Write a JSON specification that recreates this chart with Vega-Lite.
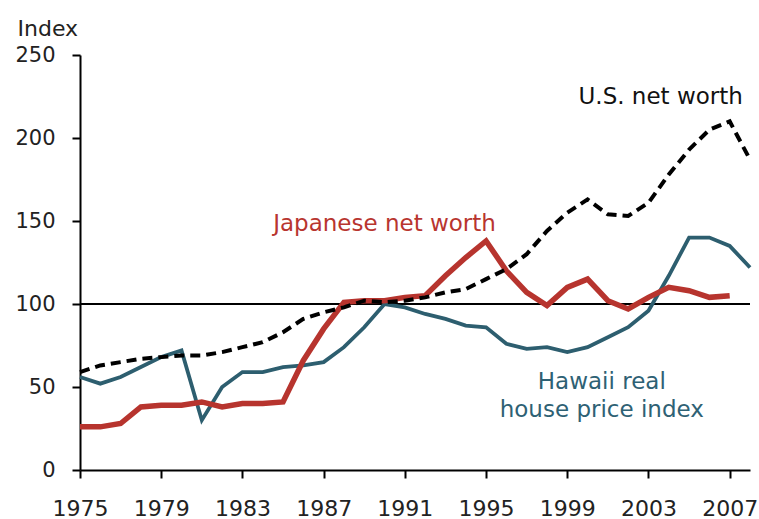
{
  "$schema": "https://vega.github.io/schema/vega-lite/v6.json",
  "width": 670,
  "height": 415,
  "autosize": "none",
  "padding": {"left": 80, "top": 55, "right": 9, "bottom": 49},
  "background": "white",
  "config": {
    "view": {"stroke": null},
    "axis": {"labelFont": "DejaVu Sans", "labelFontSize": 21, "labelColor": "#222", "domainColor": "#000", "tickColor": "#000", "domainWidth": 2, "tickWidth": 2, "grid": false, "labelFlush": false, "labelOverlap": false, "labelBound": false}
  },
  "datasets": {
    "series": [
      {"series": "Hawaii", "year": 1975, "value": 56},
      {"series": "Hawaii", "year": 1976, "value": 52},
      {"series": "Hawaii", "year": 1977, "value": 56},
      {"series": "Hawaii", "year": 1978, "value": 62},
      {"series": "Hawaii", "year": 1979, "value": 68},
      {"series": "Hawaii", "year": 1980, "value": 72},
      {"series": "Hawaii", "year": 1981, "value": 30},
      {"series": "Hawaii", "year": 1982, "value": 50},
      {"series": "Hawaii", "year": 1983, "value": 59},
      {"series": "Hawaii", "year": 1984, "value": 59},
      {"series": "Hawaii", "year": 1985, "value": 62},
      {"series": "Hawaii", "year": 1986, "value": 63},
      {"series": "Hawaii", "year": 1987, "value": 65},
      {"series": "Hawaii", "year": 1988, "value": 74},
      {"series": "Hawaii", "year": 1989, "value": 86},
      {"series": "Hawaii", "year": 1990, "value": 100},
      {"series": "Hawaii", "year": 1991, "value": 98},
      {"series": "Hawaii", "year": 1992, "value": 94},
      {"series": "Hawaii", "year": 1993, "value": 91},
      {"series": "Hawaii", "year": 1994, "value": 87},
      {"series": "Hawaii", "year": 1995, "value": 86},
      {"series": "Hawaii", "year": 1996, "value": 76},
      {"series": "Hawaii", "year": 1997, "value": 73},
      {"series": "Hawaii", "year": 1998, "value": 74},
      {"series": "Hawaii", "year": 1999, "value": 71},
      {"series": "Hawaii", "year": 2000, "value": 74},
      {"series": "Hawaii", "year": 2001, "value": 80},
      {"series": "Hawaii", "year": 2002, "value": 86},
      {"series": "Hawaii", "year": 2003, "value": 96},
      {"series": "Hawaii", "year": 2004, "value": 117},
      {"series": "Hawaii", "year": 2005, "value": 140},
      {"series": "Hawaii", "year": 2006, "value": 140},
      {"series": "Hawaii", "year": 2007, "value": 135},
      {"series": "Hawaii", "year": 2008, "value": 122},
      {"series": "Japan", "year": 1975, "value": 26},
      {"series": "Japan", "year": 1976, "value": 26},
      {"series": "Japan", "year": 1977, "value": 28},
      {"series": "Japan", "year": 1978, "value": 38},
      {"series": "Japan", "year": 1979, "value": 39},
      {"series": "Japan", "year": 1980, "value": 39},
      {"series": "Japan", "year": 1981, "value": 41},
      {"series": "Japan", "year": 1982, "value": 38},
      {"series": "Japan", "year": 1983, "value": 40},
      {"series": "Japan", "year": 1984, "value": 40},
      {"series": "Japan", "year": 1985, "value": 41},
      {"series": "Japan", "year": 1986, "value": 66},
      {"series": "Japan", "year": 1987, "value": 85},
      {"series": "Japan", "year": 1988, "value": 101},
      {"series": "Japan", "year": 1989, "value": 102},
      {"series": "Japan", "year": 1990, "value": 102},
      {"series": "Japan", "year": 1991, "value": 104},
      {"series": "Japan", "year": 1992, "value": 105},
      {"series": "Japan", "year": 1993, "value": 117},
      {"series": "Japan", "year": 1994, "value": 128},
      {"series": "Japan", "year": 1995, "value": 138},
      {"series": "Japan", "year": 1996, "value": 120},
      {"series": "Japan", "year": 1997, "value": 107},
      {"series": "Japan", "year": 1998, "value": 99},
      {"series": "Japan", "year": 1999, "value": 110},
      {"series": "Japan", "year": 2000, "value": 115},
      {"series": "Japan", "year": 2001, "value": 102},
      {"series": "Japan", "year": 2002, "value": 97},
      {"series": "Japan", "year": 2003, "value": 104},
      {"series": "Japan", "year": 2004, "value": 110},
      {"series": "Japan", "year": 2005, "value": 108},
      {"series": "Japan", "year": 2006, "value": 104},
      {"series": "Japan", "year": 2007, "value": 105},
      {"series": "US", "year": 1975, "value": 59},
      {"series": "US", "year": 1976, "value": 63},
      {"series": "US", "year": 1977, "value": 65},
      {"series": "US", "year": 1978, "value": 67},
      {"series": "US", "year": 1979, "value": 68},
      {"series": "US", "year": 1980, "value": 69},
      {"series": "US", "year": 1981, "value": 69},
      {"series": "US", "year": 1982, "value": 71},
      {"series": "US", "year": 1983, "value": 74},
      {"series": "US", "year": 1984, "value": 77},
      {"series": "US", "year": 1985, "value": 83},
      {"series": "US", "year": 1986, "value": 91},
      {"series": "US", "year": 1987, "value": 95},
      {"series": "US", "year": 1988, "value": 98},
      {"series": "US", "year": 1989, "value": 102},
      {"series": "US", "year": 1990, "value": 101},
      {"series": "US", "year": 1991, "value": 102},
      {"series": "US", "year": 1992, "value": 104},
      {"series": "US", "year": 1993, "value": 107},
      {"series": "US", "year": 1994, "value": 109},
      {"series": "US", "year": 1995, "value": 115},
      {"series": "US", "year": 1996, "value": 121},
      {"series": "US", "year": 1997, "value": 130},
      {"series": "US", "year": 1998, "value": 144},
      {"series": "US", "year": 1999, "value": 155},
      {"series": "US", "year": 2000, "value": 163},
      {"series": "US", "year": 2001, "value": 154},
      {"series": "US", "year": 2002, "value": 153},
      {"series": "US", "year": 2003, "value": 161},
      {"series": "US", "year": 2004, "value": 178},
      {"series": "US", "year": 2005, "value": 193},
      {"series": "US", "year": 2006, "value": 205},
      {"series": "US", "year": 2007, "value": 210},
      {"series": "US", "year": 2008, "value": 187}
    ],
    "labels": [
      {"text": "U.S. net worth", "x": 2003.6, "y": 225, "color": "#111111"},
      {"text": "Japanese net worth", "x": 1990.0, "y": 148, "color": "#b8352f"},
      {"text": "Hawaii real", "x": 2000.7, "y": 53, "color": "#2e6174"},
      {"text": "house price index", "x": 2000.7, "y": 36, "color": "#2e6174"}
    ]
  },
  "layer": [
    {
      "data": {"values": [{"ref": 100}]},
      "mark": {"type": "rule", "color": "#000", "strokeWidth": 2},
      "encoding": {"y": {"field": "ref", "type": "quantitative", "scale": {"domain": [0, 250]}}}
    },
    {
      "data": {"name": "series"},
      "transform": [{"filter": "datum.series === 'Hawaii'"}],
      "mark": {"type": "line", "color": "#2d5e6f", "strokeWidth": 3.8, "strokeJoin": "miter"},
      "encoding": {
        "x": {"field": "year", "type": "quantitative", "scale": {"domain": [1975, 2008], "nice": false, "zero": false},
          "axis": {"values": [1975, 1979, 1983, 1987, 1991, 1995, 1999, 2003, 2007], "format": "d", "title": null, "tickSize": 8, "labelPadding": 20, "labelFontSize": 22}},
        "y": {"field": "value", "type": "quantitative", "scale": {"domain": [0, 250], "nice": false},
          "axis": {"values": [0, 50, 100, 150, 200, 250], "title": "Index", "titleAngle": 0, "titleAlign": "left", "titleBaseline": "alphabetic", "titleX": -63, "titleY": -20, "titleFont": "DejaVu Sans", "titleFontSize": 22, "titleFontWeight": "normal", "titleColor": "#222", "tickSize": 8, "labelPadding": 17}}
      }
    },
    {
      "data": {"name": "series"},
      "transform": [{"filter": "datum.series === 'Japan'"}],
      "mark": {"type": "line", "color": "#b7342e", "strokeWidth": 5.5},
      "encoding": {
        "x": {"field": "year", "type": "quantitative"},
        "y": {"field": "value", "type": "quantitative"}
      }
    },
    {
      "data": {"name": "series"},
      "transform": [{"filter": "datum.series === 'US'"}],
      "mark": {"type": "line", "color": "#000", "strokeWidth": 4, "strokeDash": [10, 6]},
      "encoding": {
        "x": {"field": "year", "type": "quantitative"},
        "y": {"field": "value", "type": "quantitative"}
      }
    },
    {
      "data": {"name": "labels"},
      "mark": {"type": "text", "font": "DejaVu Sans", "fontSize": 23, "align": "center", "baseline": "middle"},
      "encoding": {
        "x": {"field": "x", "type": "quantitative"},
        "y": {"field": "y", "type": "quantitative"},
        "text": {"field": "text"},
        "color": {"field": "color", "type": "nominal", "scale": null}
      }
    }
  ]
}
